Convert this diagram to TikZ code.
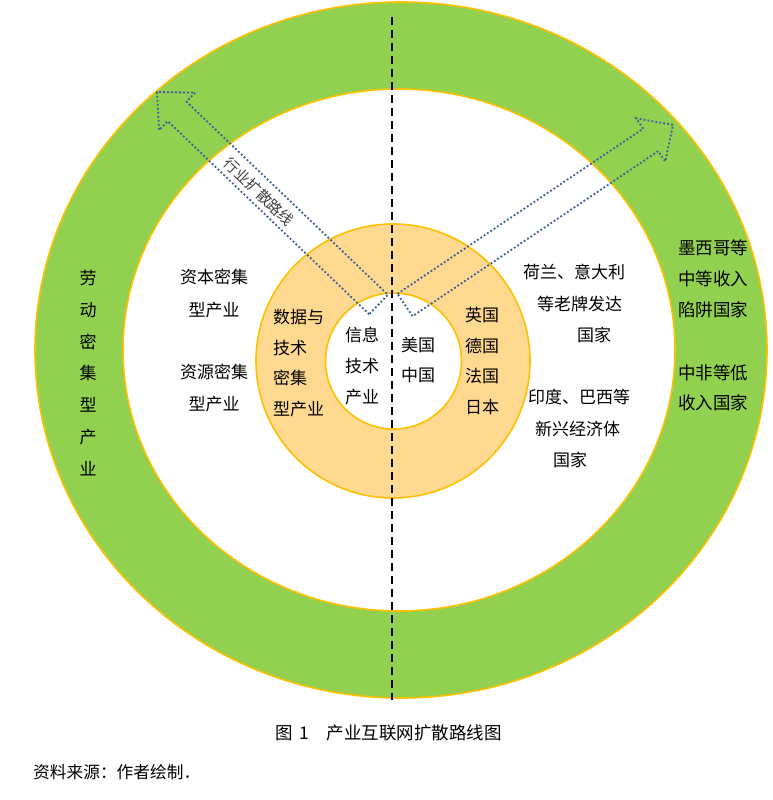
\documentclass[tikz,border=0pt]{standalone}
\usepackage{fontspec}
\setmainfont{Noto Sans CJK SC}
\definecolor{ringgreen}{HTML}{92D050}
\definecolor{ringgold}{HTML}{FFC000}
\definecolor{ringorange}{HTML}{FFD98F}
\definecolor{arrowblue}{HTML}{3B5B9A}
\definecolor{labelgray}{HTML}{404040}
\tikzset{
  ringline/.style={draw=ringgold, line width=1.6pt},
  axisline/.style={draw=black, line width=2pt, dash pattern=on 8pt off 5pt},
  patharrow/.style={draw=arrowblue, line width=1.8pt, dash pattern=on 1.8pt off 2.2pt, line join=miter},
  txt/.style={inner sep=0pt, align=center, text=black},
}
\newcommand{\fs}[1]{\fontsize{17}{#1}\selectfont}
\begin{document}
\begin{tikzpicture}[x=1pt,y=-1pt]
\useasboundingbox[fill=white] (0,0) rectangle (772,800);
% rings
\path[ringline, fill=ringgreen] (401,350) ellipse [x radius=366, y radius=348];
\path[ringline, fill=white] (399,350) ellipse [x radius=276, y radius=261];
\path[ringline, fill=ringorange] (393,361) circle [radius=137];
\path[ringline, fill=white] (393.5,361) circle [radius=68];
% axis
\coordinate (axtop) at (392,17);
\coordinate (axbot) at (392,700);
\draw[axisline] (axtop) -- (axbot);
% left arrow
\begin{scope}[shift={(378.5,304.5)}, rotate=136.2]
  \draw[patharrow] (0,-13.5) -- (279,-13.5) -- (279,-26) -- (307,0) -- (279,26) -- (279,13.5) -- (0,13.5) -- cycle;
\end{scope}
% right arrow
\begin{scope}[shift={(405,305)}, rotate=33.9]
  \draw[patharrow] (0,-13.5) -- (296,-13.5) -- (296,-26) -- (323,0) -- (296,26) -- (296,13.5) -- (0,13.5) -- cycle;
\end{scope}
\node[txt, text=labelgray, rotate=-43.8, font=\fontsize{15}{18}\selectfont] (pathlabel) at (259,192) {行业扩散路线};
% texts
\node[txt, font=\fs{33}] (capital) at (214,293.5) {资本密集\\型产业};
\node[txt, font=\fs{32}] (resource) at (214,388) {资源密集\\型产业};
\node[txt, align=left, anchor=west, font=\fs{30.7}] (data) at (273,363) {数据与\\技术\\密集\\型产业};
\node[txt, font=\fs{31}] (it) at (362,366) {信息\\技术\\产业};
\node[txt, font=\fs{30}] (usch) at (418,360) {美国\\中国};
\node[txt, font=\fs{30.7}] (europe) at (482,361) {英国\\德国\\法国\\日本};
\node[txt, align=left, anchor=west, font=\fs{31.5}] (developed) at (523,303.5) {荷兰、意大利\\\hspace*{14pt}等老牌发达\\\hspace*{54pt}国家};
\node[txt, align=left, anchor=west, font=\fs{31.5}] (emerging) at (528,428.5) {印度、巴西等\\\hspace*{7pt}新兴经济体\\\hspace*{25pt}国家};
\node[txt, align=left, anchor=west, font=\fontsize{17.5}{31}\selectfont] (mexico) at (678,279) {墨西哥等\\中等收入\\陷阱国家};
\node[txt, align=left, anchor=west, font=\fontsize{17.5}{30}\selectfont] (africa) at (678,388) {中非等低\\收入国家};
\node[txt, font=\fs{31.7}] (labor) at (88,373) {劳\\动\\密\\集\\型\\产\\业};
% caption
\node[txt, anchor=west, font=\fontsize{17.5}{20}\selectfont] (caption) at (275,733) {图\hspace{0.4em}1\hspace{1em}产业互联网扩散路线图};
\node[txt, anchor=west, font=\fontsize{16.7}{20}\selectfont] (source) at (33,772) {资料来源：作者绘制．};
\end{tikzpicture}
\end{document}
